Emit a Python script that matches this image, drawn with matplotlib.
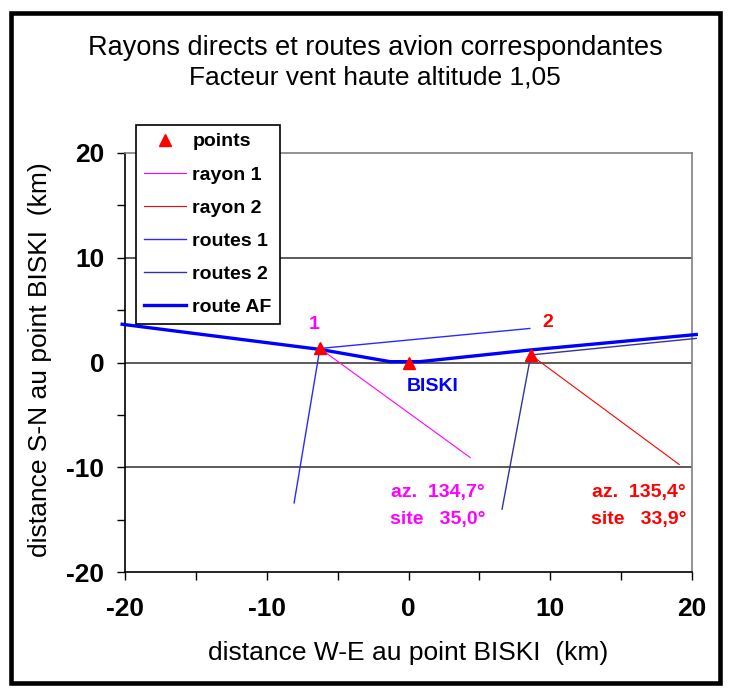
import matplotlib.pyplot as plt
from matplotlib.patches import Rectangle
from matplotlib.ticker import MultipleLocator

plt.rcParams['font.family'] = ['Liberation Sans', 'DejaVu Sans']
plt.rcParams['axes.unicode_minus'] = False

# points: point 1, BISKI, point 2
pts_x = [-6.25, 0.0, 8.63]
pts_y = [1.34, 0.0, 0.72]

# direct rays
rayon1_x = [-6.25, 4.35]
rayon1_y = [1.34, -9.07]
rayon2_x = [8.63, 19.1]
rayon2_y = [0.72, -9.74]

# aircraft routes
routes1_x = [-8.07, -6.25, 8.56]
routes1_y = [-13.4, 1.34, 3.25]
routes2_x = [6.6, 8.63, 20.3]
routes2_y = [-14.0, 0.72, 2.3]

# route AF
af_x = [-20.2, -6.25, -1.3, 0.8, 8.63, 20.3]
af_y = [3.65, 1.25, 0.08, 0.08, 1.2, 2.67]

fig = plt.figure(figsize=(7.3, 6.88), dpi=100)
fig.patch.set_facecolor('white')
ax = fig.add_axes([125 / 730, 116 / 688, 567 / 730, 419 / 688])

for yv in [10, 0, -10]:
    ax.axhline(yv, color='#404040', lw=1.2, zorder=1)

ax.plot(rayon1_x, rayon1_y, color='#ff00ff', lw=0.8, label='rayon 1', zorder=2)
ax.plot(rayon2_x, rayon2_y, color='#ff0000', lw=0.8, label='rayon 2', zorder=2)
ax.plot(routes1_x, routes1_y, color='#2a2aff', lw=1.0, label='routes 1', zorder=3, clip_on=False)
ax.plot(routes2_x, routes2_y, color='#333399', lw=1.0, label='routes 2', zorder=3, clip_on=False)
ax.plot(af_x, af_y, color='#0000ff', lw=2.4, label='route AF', zorder=4, clip_on=False)
ax.plot(pts_x, pts_y, '^', color='#ff0000', ms=9, ls='none', label='points', zorder=5)

ax.set_xlim(-20, 20)
ax.set_ylim(-20, 20)
ax.xaxis.set_major_locator(MultipleLocator(10))
ax.xaxis.set_minor_locator(MultipleLocator(5))
ax.yaxis.set_major_locator(MultipleLocator(10))
ax.yaxis.set_minor_locator(MultipleLocator(5))
ax.tick_params(which='both', direction='out', length=6, width=1, labelsize=19, pad=9)
ax.tick_params(axis='x', which='major', pad=12)
for lab in ax.get_xticklabels() + ax.get_yticklabels():
    lab.set_fontweight('bold')

for s in ['top', 'right']:
    ax.spines[s].set_color('#808080')
    ax.spines[s].set_linewidth(1.2)
for s in ['left', 'bottom']:
    ax.spines[s].set_color('black')
    ax.spines[s].set_linewidth(1.2)

# labels on the chart
tk = dict(fontsize=14, fontweight='bold', va='center')
ax.text(-6.67, 3.63, '1', color='#ff00ff', ha='center', **tk)
ax.text(9.82, 3.82, '2', color='#ff0000', ha='center', **tk)
ax.text(1.68, -2.29, 'BISKI', color='#0000ff', ha='center', **tk)
ax.text(5.4, -12.41, 'az.  134,7°', color='#ff00ff', ha='right', **tk)
ax.text(5.4, -14.99, 'site   35,0°', color='#ff00ff', ha='right', **tk)
ax.text(19.58, -12.41, 'az.  135,4°', color='#ff0000', ha='right', **tk)
ax.text(19.58, -14.99, 'site   33,9°', color='#ff0000', ha='right', **tk)

handles, labels = ax.get_legend_handles_labels()
order = [5, 0, 1, 2, 3, 4]
leg = ax.legend([handles[i] for i in order], [labels[i] for i in order],
                loc='upper left', bbox_to_anchor=(11 / 567, 447 / 419), frameon=True,
                fancybox=False, edgecolor='black', framealpha=1, borderaxespad=0,
                prop={'weight': 'bold', 'size': 14}, handlelength=2.15,
                labelspacing=0.8, borderpad=0.4, handletextpad=0.35)
leg.get_frame().set_linewidth(1.2)
leg.set_zorder(10)

fig.text(375 / 730, 1 - 48 / 688, 'Rayons directs et routes avion correspondantes',
         ha='center', va='center', fontsize=19.5)
fig.text(375 / 730, 1 - 77 / 688, 'Facteur vent haute altitude 1,05',
         ha='center', va='center', fontsize=19)
fig.text(408 / 730, 1 - 653 / 688, 'distance W-E au point BISKI  (km)',
         ha='center', va='center', fontsize=19)
fig.text(40 / 730, 1 - 360 / 688, 'distance S-N au point BISKI  (km)',
         ha='center', va='center', fontsize=19, rotation=90)

fig.patches.append(Rectangle((10.5 / 730, 5 / 688), 709 / 730, 670 / 688,
                             transform=fig.transFigure, fill=False,
                             edgecolor='black', lw=3.3))

fig.savefig('out.png', dpi=100)
